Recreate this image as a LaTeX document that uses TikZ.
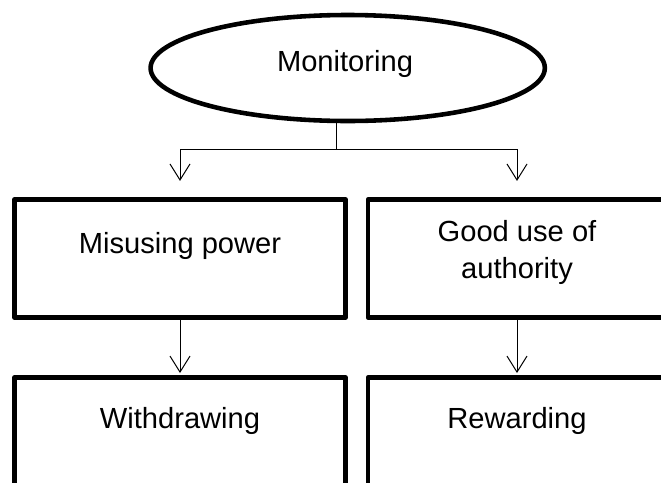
\documentclass[tikz,border=0pt]{standalone}
\usepackage{fontspec}
\setmainfont{Liberation Sans}
\usetikzlibrary{shapes.geometric,arrows.meta}

\begin{document}
\begin{tikzpicture}[
    oval/.style={ellipse, draw, line width=0.16cm, minimum width=13.8cm, minimum height=3.71cm, inner sep=0cm, outer sep=0cm},
    box/.style={rectangle, draw, line width=0.16cm, line join=round, inner sep=0cm},
    lbl/.style={inner sep=0cm, font=\fontsize{29}{37}\selectfont},
    flow/.style={line width=0.035cm, -{Straight Barb[length=0.56cm, width=0.7cm]}}
  ]
  \clip (0cm,0cm) rectangle (23.135cm,-16.905cm);
  \fill[white] (0cm,0cm) rectangle (23.135cm,-16.905cm);

  % top oval
  \node[oval] (monitor) at (12.17cm,-2.38cm) {};
  \node[lbl, anchor=base] (monitortext) at (12.075cm,-2.51cm) {Monitoring};

  % boxes, the right column and the bottom row run off the page
  \node[box, minimum width=11.585cm, minimum height=4.13cm] (misusebox) at (6.3cm,-9.0475cm) {};
  \node[box, minimum width=10.43cm, minimum height=4.13cm] (goodbox) at (18.095cm,-9.0475cm) {};
  \node[box, minimum width=11.585cm, minimum height=6.39cm] (withdrawbox) at (6.3cm,-16.41cm) {};
  \node[box, minimum width=10.43cm, minimum height=6.39cm] (rewardbox) at (18.095cm,-16.41cm) {};

  \node[lbl, anchor=base] (misuse) at (6.3cm,-8.855cm) {Misusing power};
  \node[lbl, align=center] (gooduse) at (18.095cm,-8.85cm) {Good use of\\authority};
  \node[lbl, anchor=base] (withdraw) at (6.3cm,-14.98cm) {Withdrawing};
  \node[lbl, anchor=base] (reward) at (18.095cm,-14.98cm) {Rewarding};

  % connectors
  \coordinate (fork) at (11.76cm,-5.215cm);
  \draw[line width=0.035cm] (monitor.south -| fork) -- (fork);
  \draw[flow, shorten >=0.57cm] (fork) -| (misusebox.north);
  \draw[flow, shorten >=0.57cm] (fork) -| (goodbox.north);
  \draw[flow, shorten >=0.08cm] (misusebox.south) -- (withdrawbox.north);
  \draw[flow, shorten >=0.08cm] (goodbox.south) -- (rewardbox.north);
\end{tikzpicture}
\end{document}
